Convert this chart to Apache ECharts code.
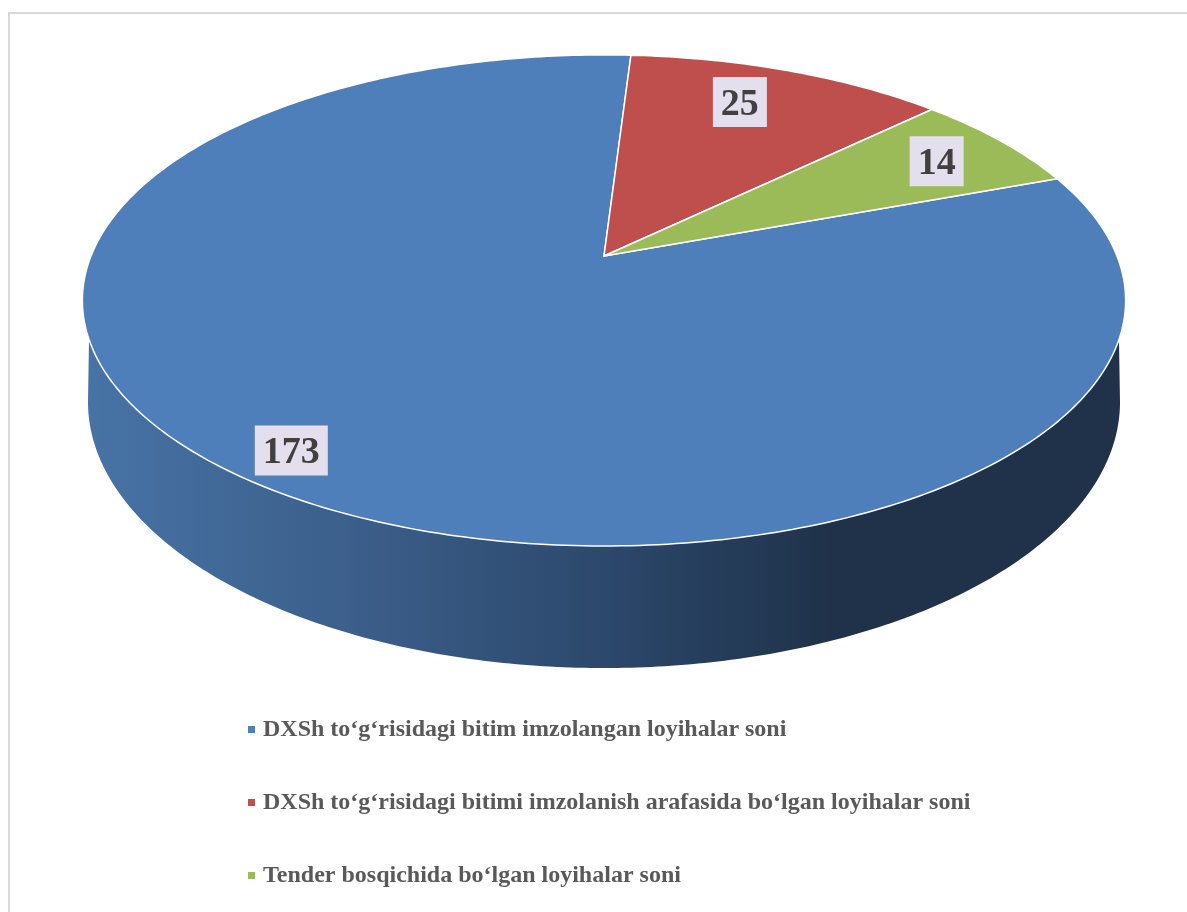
<!DOCTYPE html>
<html>
<head>
<meta charset="utf-8">
<title>Loyihalar soni</title>
<script src="https://cdn.jsdelivr.net/npm/echarts@6/dist/echarts.min.js"></script>
<style>
  html, body { margin: 0; padding: 0; background: #fff; }
  #chart { width: 1187px; height: 912px; }
</style>
</head>
<body>
<div id="chart"></div>
<script>
const categories = [
  'DXSh to‘g‘risidagi bitim imzolangan loyihalar soni',
  'DXSh to‘g‘risidagi bitimi imzolanish arafasida bo‘lgan loyihalar soni',
  'Tender bosqichida bo‘lgan loyihalar soni'
];
const values = [173, 25, 14];
const colors = ['#4E7FBA', '#BE4F4C', '#9BBB59'];

// where each number sits: share along its slice, share of the radius
const labelAlong = [0.5, 0.44, 0.52];
const labelRadius = [0.889, 0.793, 0.821];

const total = values.reduce((a, b) => a + b, 0);

// first slice starts this many degrees clockwise from the top
const FIRST_SLICE_DEG = 69.78;

// tilted disc: the hidden polar grid is a plain circle, this maps it onto the picture
const POLAR_R = 100;
const APEX = [604, 256];
const SCALE_X = 513;
const SCALE_Y = 237.5;
const TILT = -0.181;
// lower rim of the side wall
const RIM = { cx: 604, cy: 402, rx: 516, ry: 266 };

function project(api, radius, val) {
  const c = api.coord([0, 0]);
  const p = api.coord([radius, val]);
  const u = (p[0] - c[0]) / POLAR_R;
  const v = (p[1] - c[1]) / POLAR_R;
  const s = 1 + TILT * v;
  return [APEX[0] + SCALE_X * u / s, APEX[1] + SCALE_Y * v / s];
}

function renderSlice(params, api) {
  const start = api.value(0);
  const end = api.value(1);
  const idx = params.seriesIndex - 1;
  const points = [project(api, 0, 0)];
  const steps = Math.ceil((end - start) * 2);
  for (let i = 0; i <= steps; i++) {
    points.push(project(api, 1, start + (end - start) * i / steps));
  }
  const at = project(api, labelRadius[idx], start + (end - start) * labelAlong[idx]);
  const text = String(api.value(2));
  const boxW = text.length * 19 + 16;
  return {
    type: 'group',
    children: [
      {
        type: 'polygon',
        shape: { points: points },
        style: { fill: colors[idx], stroke: '#fff', lineWidth: 1.5, lineJoin: 'round' }
      },
      {
        type: 'rect',
        z2: 9,
        shape: { x: at[0] - boxW / 2, y: at[1] - 25, width: boxW, height: 50 },
        style: { fill: '#E4DFEC' }
      },
      {
        type: 'text',
        z2: 10,
        style: {
          x: at[0],
          y: at[1] + 3,
          text: text,
          align: 'center',
          verticalAlign: 'middle',
          fontFamily: 'Liberation Serif',
          fontWeight: 'bold',
          fontSize: 38,
          fill: '#404040'
        }
      }
    ]
  };
}

// side wall, upper edge follows the near half of the disc rim
function renderWall(params, api) {
  const points = [];
  const steps = 240;
  const from = total * (109.3 - FIRST_SLICE_DEG) / 360;
  const span = total * 141.4 / 360;
  for (let i = 0; i <= steps; i++) {
    points.push(project(api, 1, from + span * i / steps));
  }
  for (let i = 0; i <= steps; i++) {
    const t = Math.PI * (1 - i / steps);
    points.push([RIM.cx + RIM.rx * Math.cos(t), RIM.cy + RIM.ry * Math.sin(t)]);
  }
  return {
    type: 'polygon',
    shape: { points: points },
    style: {
      fill: new echarts.graphic.LinearGradient(0, 0, 1, 0, [
        { offset: 0, color: '#4773A5' },
        { offset: 0.25, color: '#3C5F8B' },
        { offset: 0.5, color: '#2C486C' },
        { offset: 0.72, color: '#1F3249' },
        { offset: 1, color: '#1F3249' }
      ])
    }
  };
}

let running = 0;
const sliceSeries = values.map((val, i) => {
  const row = [running, running + val, val];
  running += val;
  return {
    type: 'custom',
    name: categories[i],
    coordinateSystem: 'polar',
    silent: true,
    itemStyle: { color: colors[i] },
    encode: { radius: 2, angle: 0 },
    data: [row],
    renderItem: renderSlice
  };
});

const option = {
  animation: false,
  backgroundColor: '#fff',
  polar: { center: [300, 300], radius: [0, POLAR_R] },
  angleAxis: { type: 'value', min: 0, max: total, startAngle: 90 - FIRST_SLICE_DEG, show: false },
  radiusAxis: { type: 'value', min: 0, max: 1, show: false },
  graphic: [{
    type: 'polyline',
    silent: true,
    z: -10,
    shape: { points: [[9, 912], [9, 13], [1187, 13]] },
    style: { fill: 'none', stroke: '#D9D9D9', lineWidth: 2 }
  }],
  legend: {
    data: categories,
    orient: 'vertical',
    left: 243,
    top: 712,
    icon: 'rect',
    itemWidth: 7,
    itemHeight: 7,
    itemGap: 48,
    selectedMode: false,
    textStyle: {
      fontFamily: 'Liberation Serif',
      fontWeight: 'bold',
      fontSize: 24,
      color: '#595959',
      lineHeight: 25,
      padding: [0, 0, 0, 3]
    }
  },
  series: [
    {
      type: 'custom',
      name: 'wall',
      coordinateSystem: 'polar',
      silent: true,
      encode: { radius: 1, angle: 0 },
      data: [[0, 0]],
      renderItem: renderWall
    }
  ].concat(sliceSeries)
};

const chart = echarts.init(document.getElementById('chart'), null, { renderer: 'canvas' });
chart.setOption(option);
</script>
</body>
</html>
